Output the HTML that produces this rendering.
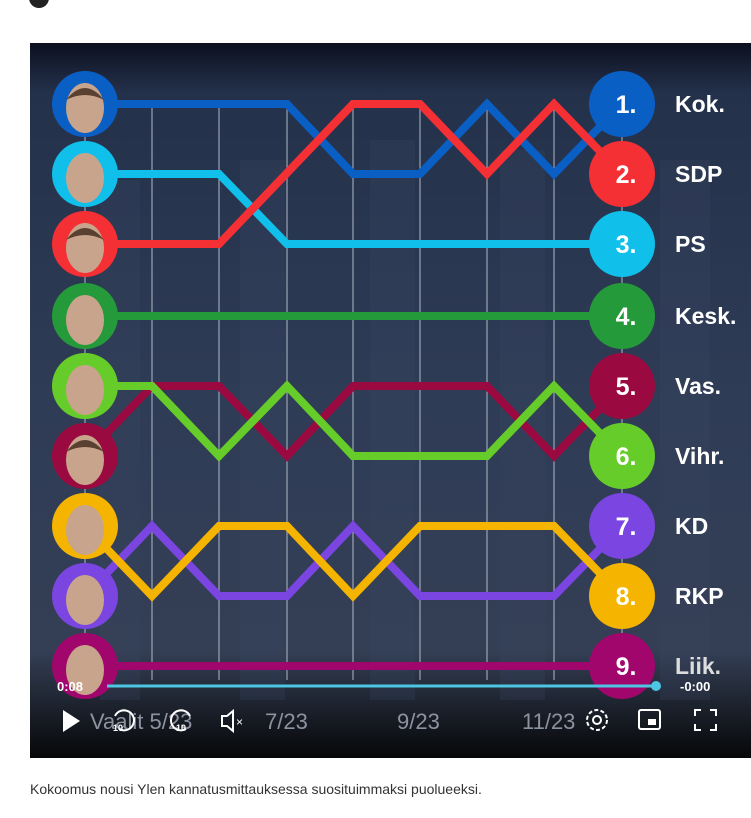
<!DOCTYPE html>
<html><head><meta charset="utf-8"><style>
html,body{margin:0;padding:0;background:#fff;width:751px;height:818px;overflow:hidden}
svg{display:block}
</style></head><body>
<svg width="751" height="818" viewBox="0 0 751 818" xmlns="http://www.w3.org/2000/svg" font-family="Liberation Sans, sans-serif">
<defs>
<linearGradient id="bg" x1="0" y1="0" x2="0" y2="1">
<stop offset="0" stop-color="#0c1020"/>
<stop offset="0.07" stop-color="#24314b"/>
<stop offset="0.5" stop-color="#2f3c56"/>
<stop offset="0.85" stop-color="#343f55"/>
<stop offset="1" stop-color="#060708"/>
</linearGradient>
</defs>
<circle cx="39" cy="-2" r="10" fill="#222"/>
<rect x="30" y="43" width="721" height="715" fill="url(#bg)"/>
<g fill="#3a4864" opacity="0.25">
<rect x="100" y="180" width="40" height="520"/><rect x="240" y="160" width="45" height="540"/>
<rect x="370" y="140" width="45" height="560"/><rect x="500" y="150" width="45" height="550"/>
<rect x="660" y="160" width="50" height="540"/>
</g>
<g stroke="#b8bfcc" stroke-width="1.2" opacity="0.8">
<line x1="152" y1="104" x2="152" y2="680"/><line x1="219" y1="104" x2="219" y2="680"/>
<line x1="287" y1="104" x2="287" y2="680"/><line x1="353" y1="104" x2="353" y2="680"/>
<line x1="420" y1="104" x2="420" y2="680"/><line x1="487" y1="104" x2="487" y2="680"/>
<line x1="554" y1="104" x2="554" y2="680"/>
<line x1="85" y1="104" x2="85" y2="680"/><line x1="622" y1="104" x2="622" y2="680"/>
</g>
<g fill="none" stroke-width="8" stroke-linejoin="miter">
<polyline stroke="#a0066c" points="85,666 622,666"/>
<polyline stroke="#7a45e0" points="85,596 152,526 219,596 287,596 353,526 420,596 487,596 554,596 622,526"/>
<polyline stroke="#f5b400" points="85,526 152,596 219,526 287,526 353,596 420,526 487,526 554,526 622,596"/>
<polyline stroke="#9a0a40" points="85,456 152,386 219,386 287,456 353,386 420,386 487,386 554,456 622,386"/>
<polyline stroke="#66cc2a" points="85,386 152,386 219,456 287,386 353,456 420,456 487,456 554,386 622,456"/>
<polyline stroke="#259a3a" points="85,316 622,316"/>
<polyline stroke="#10bfea" points="85,174 219,174 287,244 622,244"/>
<polyline stroke="#0a5fc4" points="85,104 287,104 353,174 420,174 487,104 554,174 622,104"/>
<polyline stroke="#f43035" points="85,244 219,244 353,104 420,104 487,174 554,104 622,174"/>
</g>
<g>
<circle cx="85" cy="104" r="33" fill="#0a5fc4"/><circle cx="85" cy="174" r="33" fill="#10bfea"/>
<circle cx="85" cy="244" r="33" fill="#f43035"/><circle cx="85" cy="316" r="33" fill="#259a3a"/>
<circle cx="85" cy="386" r="33" fill="#66cc2a"/><circle cx="85" cy="456" r="33" fill="#9a0a40"/>
<circle cx="85" cy="526" r="33" fill="#f5b400"/><circle cx="85" cy="596" r="33" fill="#7a45e0"/>
<circle cx="85" cy="666" r="33" fill="#a0066c"/>
</g>
<g fill="#c9a48c">
<ellipse cx="85" cy="108" rx="19" ry="25"/><ellipse cx="85" cy="178" rx="19" ry="25"/>
<ellipse cx="85" cy="248" rx="19" ry="25"/><ellipse cx="85" cy="320" rx="19" ry="25"/>
<ellipse cx="85" cy="390" rx="19" ry="25"/><ellipse cx="85" cy="460" rx="19" ry="25"/>
<ellipse cx="85" cy="530" rx="19" ry="25"/><ellipse cx="85" cy="600" rx="19" ry="25"/>
<ellipse cx="85" cy="670" rx="19" ry="25"/>
</g>
<g fill="#5a4030">
<path d="M66 100 q19 -24 38 0 q-19 -10 -38 0z"/><path d="M66 240 q19 -24 38 0 q-19 -10 -38 0z"/>
<path d="M66 452 q19 -24 38 0 q-19 -10 -38 0z"/>
</g>
<g>
<circle cx="622" cy="104" r="33" fill="#0a5fc4"/><circle cx="622" cy="174" r="33" fill="#f43035"/>
<circle cx="622" cy="244" r="33" fill="#10bfea"/><circle cx="622" cy="316" r="33" fill="#259a3a"/>
<circle cx="622" cy="386" r="33" fill="#9a0a40"/><circle cx="622" cy="456" r="33" fill="#66cc2a"/>
<circle cx="622" cy="526" r="33" fill="#7a45e0"/><circle cx="622" cy="596" r="33" fill="#f5b400"/>
<circle cx="622" cy="666" r="33" fill="#a0066c"/>
</g>
<g fill="#fff" font-weight="bold" font-size="25" text-anchor="middle">
<text x="626" y="113">1.</text><text x="626" y="183">2.</text><text x="626" y="253">3.</text>
<text x="626" y="325">4.</text><text x="626" y="395">5.</text><text x="626" y="465">6.</text>
<text x="626" y="535">7.</text><text x="626" y="605">8.</text><text x="626" y="675">9.</text>
</g>
<g fill="#fff" font-weight="bold" font-size="23">
<text x="675" y="112">Kok.</text><text x="675" y="182">SDP</text><text x="675" y="252">PS</text>
<text x="675" y="324">Kesk.</text><text x="675" y="394">Vas.</text><text x="675" y="464">Vihr.</text>
<text x="675" y="534">KD</text><text x="675" y="604">RKP</text><text x="675" y="674" fill="#ddd">Liik.</text>
</g>
<line x1="107" y1="686" x2="656" y2="686" stroke="#4cc6e2" stroke-width="3"/>
<circle cx="656" cy="686" r="5" fill="#4cc6e2"/>
<text x="57" y="691" fill="#fff" font-weight="bold" font-size="13">0:08</text>
<text x="680" y="691" fill="#fff" font-weight="bold" font-size="13">-0:00</text>
<g fill="#8c93a0" font-size="22">
<text x="90" y="729">Vaalit 5/23</text><text x="265" y="729">7/23</text>
<text x="397" y="729">9/23</text><text x="522" y="729">11/23</text>
</g>
<polygon points="63,710 63,732 80,721" fill="#fff"/>
<g fill="none" stroke="#fff" stroke-width="2">
<path d="M115 716 a10 10 0 1 1 4 13"/><path d="M190 716 a10 10 0 1 0 -4 13"/>
<path d="M222 716 h5 l6 -5 v20 l-6 -5 h-5 z"/>
<circle cx="597" cy="720" r="4"/><circle cx="597" cy="720" r="10" stroke-dasharray="4 2.3"/>
<rect x="639" y="710" width="21" height="19" rx="2"/>
<path d="M695 716 v-6 h6 M710 710 h6 v6 M716 724 v6 h-6 M701 730 h-6 v-6"/>
</g>
<rect x="648" y="719" width="8" height="6" fill="#fff"/>
<text x="113" y="731" fill="#fff" font-size="9" font-weight="bold">10</text>
<text x="176" y="731" fill="#fff" font-size="9" font-weight="bold">10</text>
<text x="236" y="726" fill="#fff" font-size="12">×</text>
<text x="30" y="794" fill="#333" font-size="14">Kokoomus nousi Ylen kannatusmittauksessa suosituimmaksi puolueeksi.</text>
</svg>
</body></html>
